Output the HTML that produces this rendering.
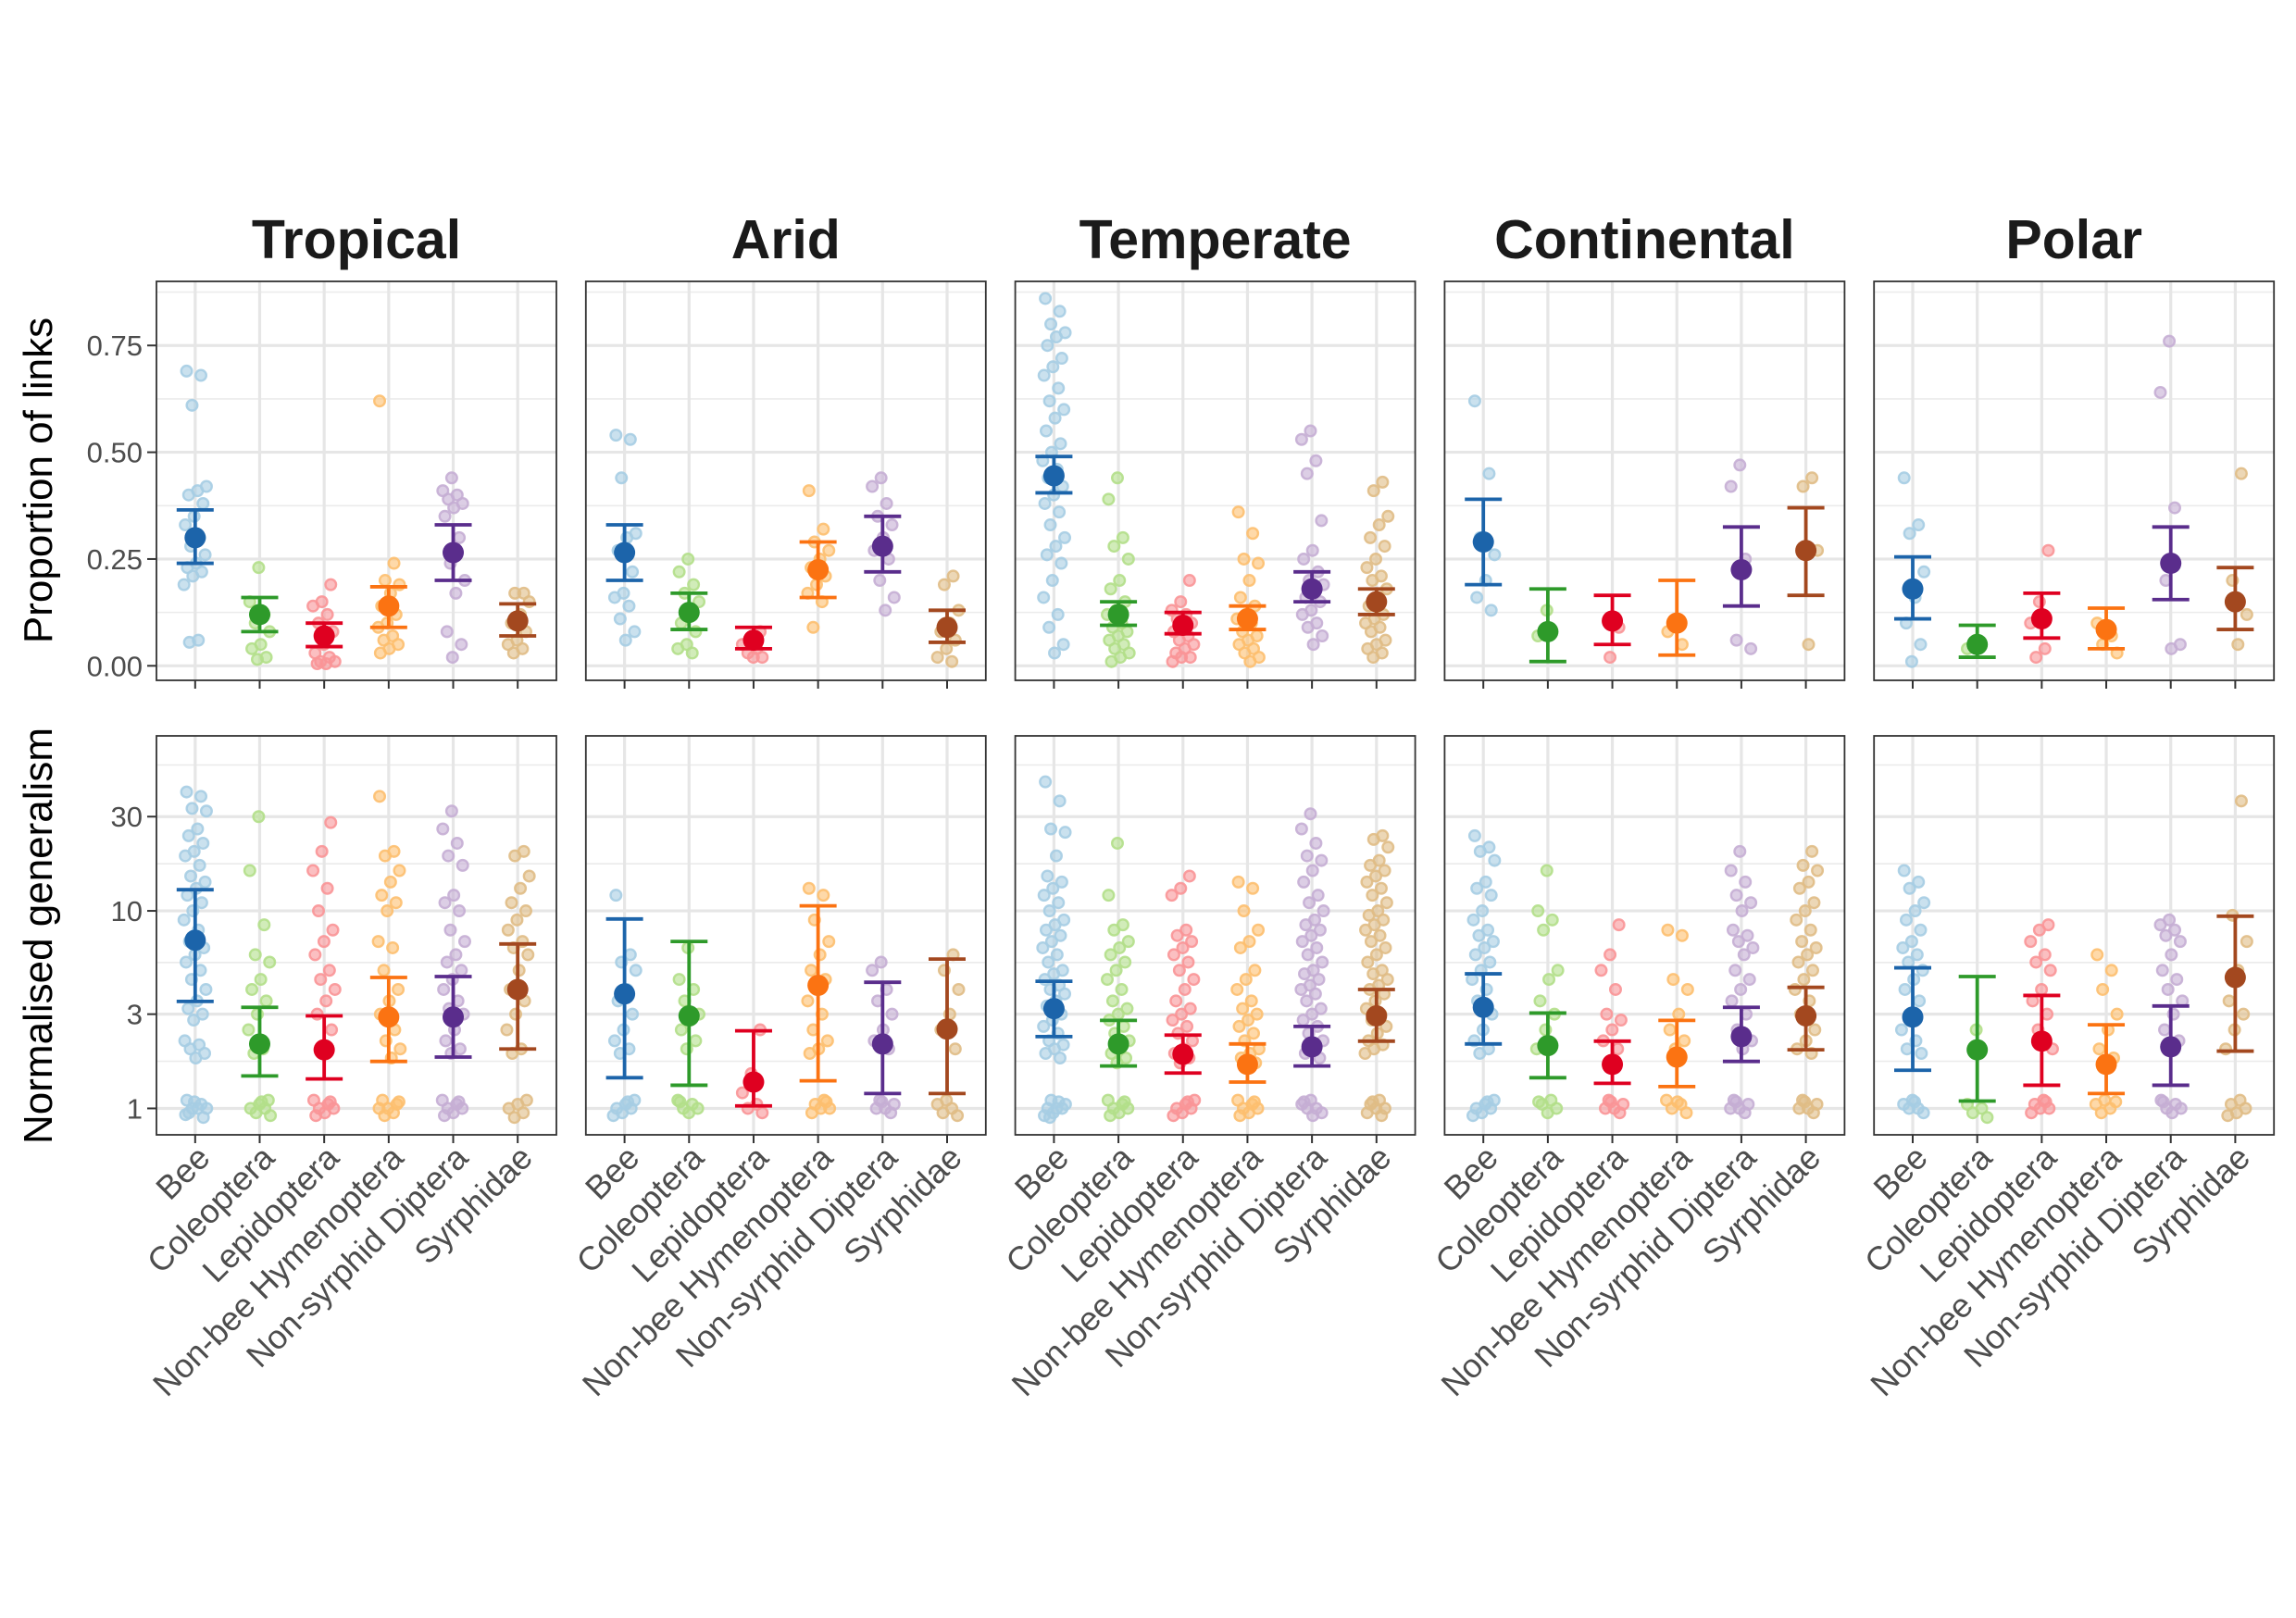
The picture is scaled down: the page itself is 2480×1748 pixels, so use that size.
<!DOCTYPE html>
<html><head><meta charset="utf-8">
<style>
html,body{margin:0;padding:0;background:#fff;}
svg{display:block;}
text{font-family:"Liberation Sans",Arial,sans-serif;}
</style></head>
<body>
<svg id="chart" width="2480" height="1748" viewBox="0 0 2480 1748" xmlns="http://www.w3.org/2000/svg"></svg>
<script>
const regions = ["Tropical","Arid","Temperate","Continental","Polar"];
const categories = ["Bee","Coleoptera","Lepidoptera","Non-bee Hymenoptera","Non-syrphid Diptera","Syrphidae"];
const propTicks = [0,0.25,0.5,0.75];
const propTickLabels = ["0.00","0.25","0.50","0.75"];
const genTicks = [1,3,10,30];
const genTickLabels = ["1","3","10","30"];

const propMean = [[0.30,0.12,0.07,0.14,0.265,0.105],[0.265,0.125,0.06,0.225,0.28,0.09],[0.445,0.12,0.095,0.11,0.18,0.15],[0.29,0.08,0.105,0.10,0.225,0.27],[0.18,0.05,0.11,0.085,0.24,0.15]];
const propLo = [[0.24,0.08,0.045,0.09,0.20,0.07],[0.20,0.085,0.04,0.16,0.22,0.055],[0.405,0.095,0.075,0.085,0.15,0.12],[0.19,0.01,0.05,0.025,0.14,0.165],[0.11,0.02,0.065,0.04,0.155,0.085]];
const propHi = [[0.365,0.16,0.10,0.185,0.33,0.145],[0.33,0.17,0.09,0.29,0.35,0.13],[0.49,0.15,0.125,0.14,0.22,0.18],[0.39,0.18,0.165,0.20,0.325,0.37],[0.255,0.095,0.17,0.135,0.325,0.23]];
const propPts = [
 [[0.69,0.68,0.61,0.42,0.41,0.40,0.38,0.35,0.33,0.30,0.28,0.26,0.24,0.23,0.22,0.21,0.19,0.06,0.055],[0.23,0.15,0.12,0.10,0.08,0.05,0.04,0.02,0.015],[0.19,0.15,0.14,0.12,0.10,0.08,0.05,0.03,0.02,0.01,0.01,0.005,0.005],[0.62,0.24,0.20,0.19,0.17,0.14,0.12,0.10,0.09,0.07,0.06,0.05,0.04,0.03],[0.44,0.41,0.40,0.39,0.38,0.37,0.35,0.30,0.24,0.20,0.17,0.08,0.05,0.02],[0.17,0.17,0.15,0.12,0.10,0.08,0.06,0.05,0.04,0.03]],
 [[0.54,0.53,0.44,0.31,0.30,0.27,0.22,0.17,0.16,0.14,0.11,0.08,0.06],[0.25,0.22,0.19,0.17,0.15,0.13,0.10,0.08,0.05,0.04,0.03],[0.08,0.06,0.05,0.04,0.03,0.02,0.02],[0.41,0.32,0.29,0.27,0.25,0.23,0.21,0.19,0.17,0.15,0.09],[0.44,0.42,0.38,0.35,0.33,0.30,0.27,0.25,0.20,0.16,0.13],[0.21,0.19,0.13,0.10,0.08,0.06,0.04,0.02,0.01]],
 [[0.86,0.83,0.80,0.78,0.77,0.75,0.72,0.70,0.68,0.65,0.62,0.60,0.58,0.55,0.52,0.50,0.48,0.46,0.44,0.42,0.40,0.38,0.36,0.33,0.30,0.28,0.26,0.24,0.20,0.16,0.12,0.09,0.05,0.03],[0.44,0.39,0.30,0.28,0.25,0.20,0.18,0.15,0.13,0.12,0.10,0.09,0.08,0.07,0.06,0.05,0.04,0.03,0.02,0.01],[0.20,0.15,0.13,0.12,0.11,0.10,0.09,0.08,0.07,0.06,0.05,0.04,0.03,0.02,0.02,0.01],[0.36,0.31,0.25,0.24,0.20,0.16,0.14,0.12,0.11,0.10,0.08,0.07,0.06,0.05,0.04,0.03,0.02,0.01],[0.55,0.53,0.48,0.45,0.34,0.27,0.25,0.22,0.20,0.19,0.17,0.16,0.15,0.13,0.12,0.10,0.09,0.07,0.05],[0.43,0.41,0.35,0.33,0.30,0.28,0.25,0.23,0.21,0.20,0.18,0.16,0.14,0.12,0.11,0.10,0.09,0.08,0.06,0.05,0.04,0.03,0.02]],
 [[0.62,0.45,0.30,0.26,0.20,0.16,0.13],[0.13,0.07],[0.09,0.02],[0.08,0.05],[0.47,0.42,0.25,0.06,0.04],[0.44,0.42,0.27,0.05]],
 [[0.44,0.33,0.31,0.22,0.16,0.10,0.05,0.01],[0.06,0.04],[0.27,0.15,0.10,0.04,0.02],[0.10,0.07,0.05,0.03],[0.76,0.64,0.37,0.20,0.05,0.04],[0.45,0.20,0.12,0.05]]
];

const genMean = [[7.1,2.12,1.98,2.9,2.9,4.0],[3.8,2.94,1.36,4.2,2.12,2.52],[3.2,2.12,1.88,1.67,2.05,2.94],[3.25,2.08,1.67,1.82,2.31,2.94],[2.9,1.98,2.19,1.67,2.05,4.6]];
const genLo = [[3.48,1.46,1.41,1.73,1.82,2.0],[1.43,1.31,1.03,1.38,1.19,1.19],[2.31,1.64,1.51,1.36,1.64,2.19],[2.12,1.43,1.34,1.29,1.73,1.98],[1.56,1.09,1.31,1.19,1.31,1.95]];
const genHi = [[12.8,3.25,2.94,4.6,4.65,6.8],[9.1,7.0,2.47,10.6,4.35,5.7],[4.4,2.79,2.35,2.12,2.6,4.0],[4.8,3.04,2.19,2.79,3.25,4.1],[5.15,4.65,3.73,2.65,3.3,9.4]];
const genPts = [
 [[40,38,33,32,26,24,22,20,19,17,15,14,13,12,11,10,9,8,7,6.5,6,5.5,5,4.5,4,3.5,3.2,3,2.8,2.2,2.1,2,1.9,1.8,1.1,1.05,1,1,1,0.95,0.9,1.08,0.93],[30,16,8.5,6,5.5,4.5,4,3.5,3,2.5,2,1.9,1.1,1.05,1,1,0.95,0.92,1.08],[28,20,16,13,10,8,7,6,5,4.5,4,3.5,3,2.5,2,1.1,1.05,1,1,0.95,0.92,1.08],[38,20,19,16,14,12,11,10,7,6.5,5,4,3.5,3,2.5,2.2,2,1.8,1.1,1.05,1,1,0.95,0.92,1.08],[32,26,22,19,17,12,11,10,8,7,6,5.5,5,4.5,4,3.5,3.2,3,2.5,2.2,2,1.9,1.1,1.05,1,1,0.95,0.92,1.08],[20,19,15,13,11,10,9,8,7,6.5,6,5,4,3.5,3,2.5,2,1.9,1.1,1.05,1,0.95,0.9]],
 [[12,6,5.5,5,4,3.5,3,2.5,2.2,2,1.9,1.1,1.05,1,1,0.95,0.92,1.08],[6.5,4.5,4,3.5,3,2.8,2.5,2.2,2,1.1,1.05,1,1,0.95,1.08],[2.5,1.5,1.2,1.05,1,0.95],[13,12,9,7,6,5,4.5,4,3.5,3,2.5,2.2,2,1.9,1.1,1.05,1,1,0.95,1.08],[5.5,5,4,3.5,3,2.5,2.2,2,1.1,1.05,1,1,0.95,1.08],[6,5,4,3,2.5,2,1.1,1.05,1,0.95,0.92]],
 [[45,36,26,25,19,15,14,13,12,11,10,9,8.5,8,7.5,7,6.5,6,5.5,5,4.8,4.5,4.2,4,3.8,3.5,3.3,3,2.8,2.6,2.4,2.2,2.1,2,1.9,1.8,1.1,1.05,1,1,1,0.95,0.92,1.08,0.9],[22,12,8.5,8,7,6.5,6,5.5,5,4.5,4,3.5,3.2,3,2.8,2.6,2.4,2.2,2,1.9,1.8,1.7,1.1,1.05,1,1,0.95,0.92,1.08],[15,13,12,8,7.5,7,6.5,6,5.5,5,4.5,4,3.5,3.2,3,2.8,2.6,2.4,2.2,2,1.9,1.8,1.7,1.1,1.05,1,1,0.95,0.92,1.08],[14,13,10,8,7,6.5,5,4.5,4,3.5,3.2,3,2.8,2.6,2.4,2.2,2,1.9,1.8,1.7,1.6,1.1,1.05,1,1,0.95,0.92,1.08],[31,26,22,19,18,16,14,12,11,10,9,8.5,8,7.5,7,6.5,6,5.5,5,4.8,4.5,4.2,4,3.8,3.5,3.2,3,2.8,2.6,2.4,2.2,2,1.9,1.8,1.1,1.05,1,1,0.95,0.92,1.08],[24,23,21,18,17,16,15,14,13,12,11,10,9.5,9,8.5,8,7.5,7,6.5,6,5.5,5,4.8,4.5,4.2,4,3.8,3.5,3.2,3,2.8,2.6,2.4,2.2,2.1,2,1.9,1.1,1.05,1,1,0.95,0.92,1.08]],
 [[24,21,20,18,14,13,12,10,9,8,7.5,7,6.5,6,5.5,5,4.5,4,3.5,3,2.5,2.2,2,1.9,1.1,1.05,1,1,0.95,0.92,1.08],[16,10,9,8,5,4.5,3.5,3,2.5,2,1.1,1.05,1,0.95,1.08],[8.5,6,5,4,3,2.8,2.5,2.2,2,1.1,1.05,1,1,0.95,1.08],[8,7.5,4.5,4,3,2.5,2.2,2,1.1,1.05,1,0.95,1.08],[20,16,14,12,11,10,8,7.5,7,6.5,6,5,4.5,4,3.5,3,2.5,2.2,2,1.1,1.05,1,1,0.95,1.08],[20,17,16,14,13,11,10,9,8,7,6.5,6,5.5,5,4.5,4,3.5,3,2.5,2.2,2,1.9,1.1,1.05,1,1,0.95,1.08]],
 [[16,14,13,11,10,9,8,7,6.5,6,5.5,5,4.5,4,3.5,3,2.5,2.2,2,1.9,1.1,1.05,1,1,0.95,1.08],[2.5,1.05,1,0.95,0.9],[8.5,8,7,6,5.5,5,4,3.5,3,2.5,2,1.1,1.05,1,1,0.95,1.08],[6,5,4,3,2.5,2,1.8,1.1,1.05,1,0.95,1.08],[9,8.5,8,7.5,7,6,5,4.5,4,3.5,3,2.5,2.2,2,1.1,1.05,1,1,0.95,1.08],[36,9.5,7,5,3.5,3,2.5,2,1.1,1.05,1,0.95,0.92]]
];

const lightCols = ["#a6cde3","#b2df8a","#f99597","#fdbf6f","#c5aed4","#e0bd86"];
const darkCols = ["#1c64aa","#2e9a2a","#df0020","#fb7312","#5a2d8c","#a3481f"];

const NS="http://www.w3.org/2000/svg";
const svg=document.getElementById("chart");
function el(tag,attrs,parent){const e=document.createElementNS(NS,tag);for(const k in attrs)e.setAttribute(k,attrs[k]);(parent||svg).appendChild(e);return e;}

const PW=432, PH_TOP=431, PH_BOT=431;
const panelX = i => 169 + i*463.8;
const topY0=304, botY0=795;
const propDom=[-0.034,0.9];
const yProp = v => topY0 + PH_TOP*(propDom[1]-v)/(propDom[1]-propDom[0]);
const genDom=[Math.log10(0.735),Math.log10(76.9)];
const yGen = v => botY0 + PH_BOT*(genDom[1]-Math.log10(v))/(genDom[1]-genDom[0]);
const xCat = (p,j) => panelX(p) + PW*((j+1)-0.4)/6.2;
const jit = i => (((i*0.618034+0.13)%1)-0.5)*0.36*PW/6.2;

function drawPanel(p,row){
  const x0=panelX(p), y0=row===0?topY0:botY0, H=row===0?PH_TOP:PH_BOT;
  const g=el("g",{});
  
  
  el("rect",{x:x0,y:y0,width:PW,height:H,fill:"#fff"},g);
  const minors = row===0 ? [0.125,0.375,0.625,0.875] : [Math.sqrt(3),Math.sqrt(30),Math.sqrt(300),Math.sqrt(3000)];
  const ys = row===0?yProp:yGen;
  minors.forEach(v=>{const y=ys(v); if(y>y0&&y<y0+H){const l=el("line",{x1:x0,x2:x0+PW,y1:y,y2:y,stroke:"#ebebeb","stroke-width":1.6},g);
    }});
  const majors = row===0?propTicks:genTicks;
  majors.forEach(v=>{const y=ys(v);const l=el("line",{x1:x0,x2:x0+PW,y1:y,y2:y,stroke:"#e6e6e6","stroke-width":3.2},g);
    });
  categories.forEach((c,j)=>{const x=xCat(p,j);const l=el("line",{x1:x,x2:x,y1:y0,y2:y0+H,stroke:"#e6e6e6","stroke-width":3.2},g);
    });
  const pts = row===0?propPts[p]:genPts[p];
  categories.forEach((c,j)=>{
    const cx=xCat(p,j);
    pts[j].forEach((v,i)=>{
      const c1=el("circle",{cx:cx+jit(i+j*7),cy:ys(v),r:5.8,fill:lightCols[j],"fill-opacity":0.6,stroke:lightCols[j],"stroke-width":2.4,"stroke-opacity":0.9},g);
      
      
    });
  });
  const M=row===0?propMean[p]:genMean[p], L=row===0?propLo[p]:genLo[p], U=row===0?propHi[p]:genHi[p];
  categories.forEach((c,j)=>{
    const cx=xCat(p,j), col=darkCols[j];
    const eb=el("path",{d:`M${cx-20},${ys(U[j])}H${cx+20}M${cx},${ys(U[j])}V${ys(L[j])}M${cx-20},${ys(L[j])}H${cx+20}`,stroke:col,"stroke-width":3.8,fill:"none"},g);
    
    
    const m=el("circle",{cx:cx,cy:ys(M[j]),r:11.5,fill:col},g);
    
    
  });
  el("rect",{x:x0,y:y0,width:PW,height:H,fill:"none",stroke:"#333","stroke-width":1.8},g);
  if(p===0){
    const labs=row===0?propTickLabels:genTickLabels;
    majors.forEach((v,k)=>{const y=ys(v);
      el("line",{x1:x0-10,x2:x0,y1:y,y2:y,stroke:"#333","stroke-width":2},g);
      const t=el("text",{x:x0-15,y:y+11,"text-anchor":"end","font-size":31,fill:"#4d4d4d"},g);
      t.textContent=labs[k];
      });
  }
  categories.forEach((c,j)=>{const x=xCat(p,j);el("line",{x1:x,x2:x,y1:y0+H,y2:y0+H+9,stroke:"#333","stroke-width":2},g);});
  if(row===1){
    categories.forEach((c,j)=>{const x=xCat(p,j);
      const t=el("text",{x:0,y:0,"text-anchor":"end","font-size":36,fill:"#4d4d4d",transform:`translate(${x+18},${y0+H+27}) rotate(-45)`},g);
      t.textContent=c;
      });
  }
  if(row===0){
    const t=el("text",{x:x0+PW/2,y:279,"text-anchor":"middle","font-size":59,"font-weight":"bold",fill:"#1a1a1a"},g);
    t.textContent=regions[p];
    
  }
}
for(let p=0;p<5;p++){drawPanel(p,0);drawPanel(p,1);}
const t1=el("text",{x:0,y:0,"text-anchor":"middle","font-size":44,fill:"#000",transform:"translate(56,519) rotate(-90)"});
t1.textContent="Proportion of links";


const t2=el("text",{x:0,y:0,"text-anchor":"middle","font-size":44,fill:"#000",transform:"translate(56,1011) rotate(-90)"});
t2.textContent="Normalised generalism";


</script>
</body></html>
